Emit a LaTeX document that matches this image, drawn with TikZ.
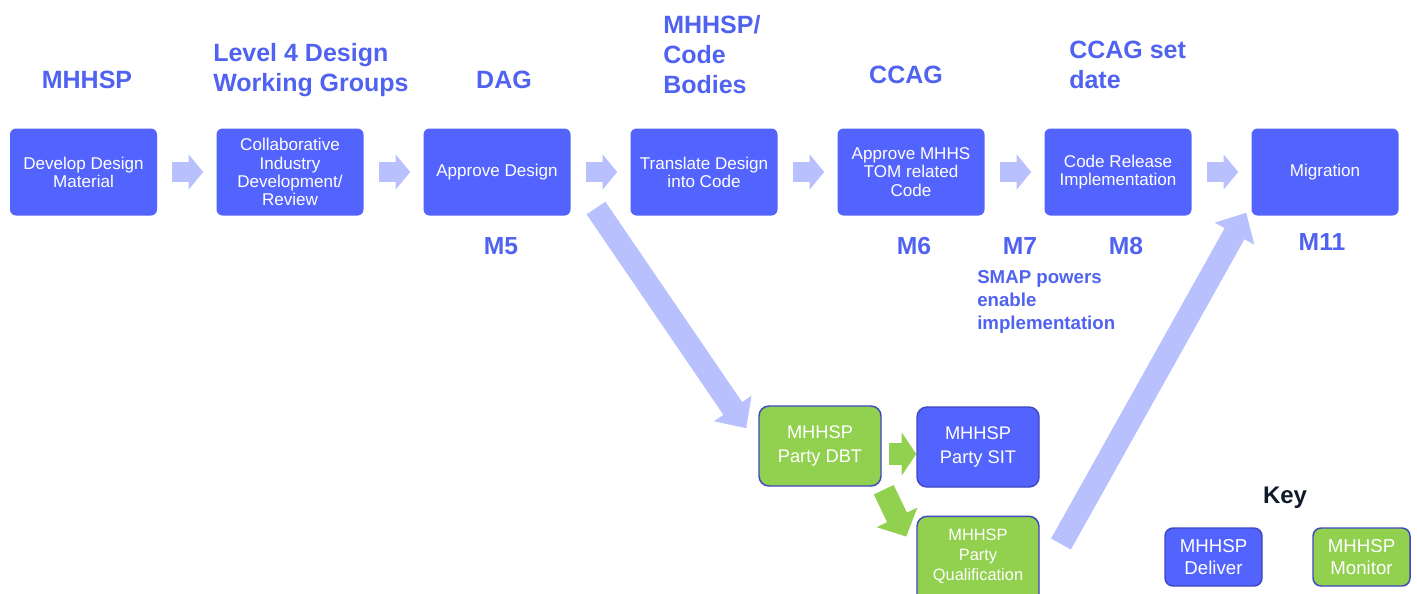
\documentclass[tikz,border=0pt]{standalone}
\usepackage{fontspec}
\setmainfont{Liberation Sans}
\usetikzlibrary{arrows.meta,calc}
\definecolor{boxblue}{RGB}{83,99,254}
\definecolor{headblue}{RGB}{80,98,240}
\definecolor{lightarrow}{RGB}{184,193,253}
\definecolor{boxgreen}{RGB}{146,208,80}
\definecolor{edgeblue}{RGB}{63,72,190}
\definecolor{keyblack}{RGB}{15,26,42}
\tikzset{
  topbox/.style={fill=boxblue, rounded corners=4.5pt, minimum width=110.25pt, minimum height=65.25pt, inner sep=0pt, text=white, align=center, font=\fontsize{12.8}{13.6}\selectfont},
  lowbox/.style={draw=edgeblue, line width=1.1pt, rounded corners=7.5pt, minimum width=91.5pt, minimum height=60pt, inner sep=0pt, text=white, align=center, font=\fontsize{13.7}{18}\selectfont},
  keybox/.style={draw=edgeblue, line width=1.1pt, rounded corners=6pt, minimum width=72.75pt, minimum height=43.5pt, inner sep=0pt, text=white, align=center, font=\fontsize{14}{16.5}\selectfont},
  heading/.style={text=headblue, font=\fontsize{18.75}{22.5}\selectfont\bfseries, inner sep=0pt},
  milestone/.style={text=headblue, font=\fontsize{18.5}{22}\selectfont\bfseries, inner sep=0pt},
  smallarrow/.style={draw=lightarrow, line width=15pt, -{Triangle[width=26pt,length=11pt]}},
  bigarrow/.style={draw=lightarrow, line width=17pt, -{Triangle[width=33pt,length=18pt]}},
  greenarrow/.style={draw=boxgreen, line width=17pt, -{Triangle[width=32pt,length=11pt]}},
  greendiag/.style={draw=boxgreen, line width=16.5pt, -{Triangle[width=33pt,length=16pt]}}
}
\begin{document}
\begin{tikzpicture}[x=0.75pt,y=-0.75pt]
\useasboundingbox (0,0) rectangle (1417,593);
% top row boxes
\node[topbox] (b1) at (83.5,172) {Develop Design\\Material};
\node[topbox] (b2) at (290,172) {Collaborative\\Industry\\Development/\\Review};
\node[topbox] (b3) at (497,172) {Approve Design};
\node[topbox] (b4) at (704,172) {Translate Design\\into Code};
\node[topbox] (b5) at (911,172) {Approve MHHS\\TOM related\\Code};
\node[topbox] (b6) at (1118,172) {Code Release\\Implementation};
\node[topbox] (b7) at (1325,172) {Migration};
% arrows between top boxes
\draw[smallarrow] ($(b1.east)+(15,0)$) -- ($(b2.west)+(-13,0)$);
\draw[smallarrow] ($(b2.east)+(15,0)$) -- ($(b3.west)+(-13,0)$);
\draw[smallarrow] ($(b3.east)+(15,0)$) -- ($(b4.west)+(-13,0)$);
\draw[smallarrow] ($(b4.east)+(15,0)$) -- ($(b5.west)+(-13,0)$);
\draw[smallarrow] ($(b5.east)+(15,0)$) -- ($(b6.west)+(-13,0)$);
\draw[smallarrow] ($(b6.east)+(15,0)$) -- ($(b7.west)+(-13,0)$);
% headings
\node[heading] (h1) at (87,80) {MHHSP};
\node[heading, anchor=west, align=left] (h2) at (213,70) {Level 4 Design\\Working Groups};
\node[heading] (h3) at (504,80) {DAG};
\node[heading, anchor=west, align=left] (h4) at (663,55) {MHHSP/\\Code\\Bodies};
\node[heading] (h5) at (906,75) {CCAG};
\node[heading, anchor=west, align=left] (h6) at (1069,65) {CCAG set\\date};
% milestones
\node[milestone] (m5) at (501,246) {M5};
\node[milestone] (m6) at (914,246) {M6};
\node[milestone] (m7) at (1020,246) {M7};
\node[milestone] (m8) at (1126,246) {M8};
\node[milestone] (m11) at (1322,242) {M11};
\node[text=headblue, anchor=west, align=left, inner sep=0pt, font=\fontsize{14}{17.25}\selectfont\bfseries] (smap) at (977,302) {SMAP powers\\enable\\implementation};
% lower boxes
\node[lowbox, fill=boxgreen] (dbt) at (820,446) {MHHSP\\Party DBT};
\node[lowbox, fill=boxblue] (sit) at (978,447) {MHHSP\\Party SIT};
\node[lowbox, fill=boxgreen, minimum height=82pt] (qual) at (978,571) {};
\node[text=white, align=center, inner sep=0pt, font=\fontsize{12.3}{15}\selectfont] (qualtext) at (978,556) {MHHSP\\Party\\Qualification};
% big diagonal arrows
\coordinate (a1s) at (596,208);
\draw[bigarrow] (a1s) -- ($(dbt.north west)+(-12,23)$);
\coordinate (a2s) at (1061,544);
\draw[bigarrow] (a2s) -- ($(b7.south west)+(-5,-3)$);
% green arrows
\draw[greenarrow] ($(dbt.east)+(7,8)$) -- ($(sit.west)+(0,7)$);
\draw[greendiag] ($(dbt.south east)+(2,3)$) -- ($(qual.north west)+(-10,21)$);
% key
\node[text=keyblack, font=\fontsize{18}{22}\selectfont\bfseries, inner sep=0pt] (key) at (1285,498) {Key};
\node[keybox, fill=boxblue] (kd) at (1213.5,557) {MHHSP\\Deliver};
\node[keybox, fill=boxgreen] (km) at (1361.5,557) {MHHSP\\Monitor};
\end{tikzpicture}
\end{document}
